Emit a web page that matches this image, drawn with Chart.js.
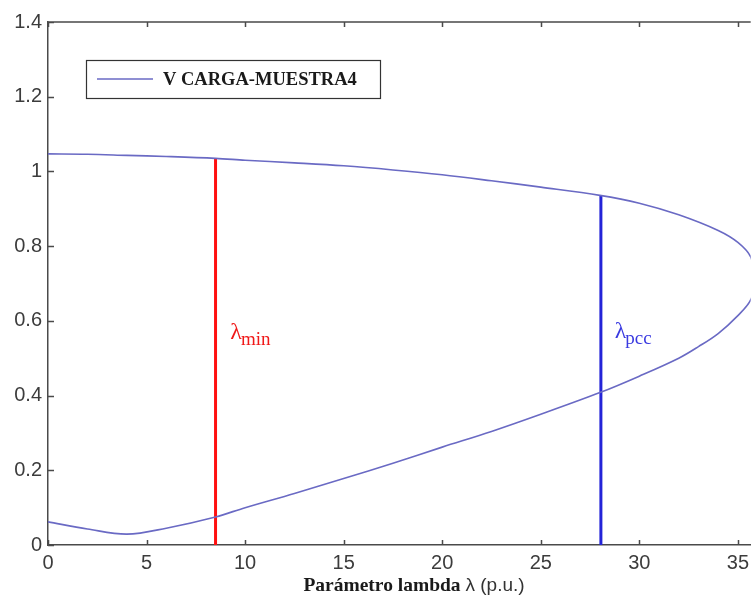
<!DOCTYPE html>
<html>
<head>
<meta charset="utf-8">
<script src="https://cdn.jsdelivr.net/npm/chart.js@4.4.1/dist/chart.umd.min.js"></script>
<style>
  html, body { margin: 0; padding: 0; background: #fff; }
  #wrap { width: 755px; height: 595px; }
</style>
</head>
<body>
<div id="wrap"><canvas id="pvCanvas" width="755" height="595"></canvas></div>
<script>
// nose curve V vs lambda, traced from upper branch round the nose and back on the lower one
var lambdaUpper = [0, 2, 4, 6, 8.5, 10, 12.5, 15, 17.5, 20, 22.5, 25, 28, 30, 32, 34, 35, 35.65, 35.85];
var voltUpper   = [1.047, 1.046, 1.043, 1.040, 1.035, 1.030, 1.023, 1.015, 1.004, 0.991, 0.975, 0.958, 0.936, 0.915, 0.884, 0.842, 0.810, 0.771, 0.71];
var lambdaLower = [35.65, 35, 34, 33, 32, 30, 28, 25, 22.5, 20, 17.5, 15, 12.5, 10, 8.5, 6, 4, 2, 0];
var voltLower   = [0.656, 0.614, 0.566, 0.531, 0.500, 0.452, 0.408, 0.350, 0.304, 0.262, 0.219, 0.178, 0.138, 0.100, 0.075, 0.045, 0.029, 0.043, 0.062];

var lambdaMin = 8.5, vMinTop = 1.035;
var lambdaPcc = 28.05, vPccTop = 0.935;

var xTicks = [0, 5, 10, 15, 20, 25, 30, 35];
var yTicks = [0, 0.2, 0.4, 0.6, 0.8, 1, 1.2, 1.4];

var curve = [];
for (var i = 0; i < lambdaUpper.length; i++) curve.push({x: lambdaUpper[i], y: voltUpper[i]});
for (var j = 0; j < lambdaLower.length; j++) curve.push({x: lambdaLower[j], y: voltLower[j]});

var curveColor = '#6a6ac4';

// inward ticks and the top frame line, matlab style
var frameTicks = {
  id: 'frameTicks',
  afterDraw: function(chart) {
    var c = chart.ctx, a = chart.chartArea, xs = chart.scales.x, ys = chart.scales.y;
    c.save();
    c.strokeStyle = '#4a4a4a';
    c.lineWidth = 1.5;
    c.beginPath();
    c.moveTo(a.left, a.top); c.lineTo(a.right, a.top);
    xTicks.forEach(function(v) {
      var px = Math.round(xs.getPixelForValue(v)) + 0.5;
      c.moveTo(px, a.bottom); c.lineTo(px, a.bottom - 5);
      c.moveTo(px, a.top); c.lineTo(px, a.top + 5);
    });
    yTicks.forEach(function(v) {
      var py = Math.round(ys.getPixelForValue(v)) + 0.5;
      c.moveTo(a.left, py); c.lineTo(a.left + 6, py);
    });
    c.stroke();
    c.restore();
  }
};

// lambda labels next to the vertical lines
var lambdaLabels = {
  id: 'lambdaLabels',
  afterDatasetsDraw: function(chart) {
    var c = chart.ctx, xs = chart.scales.x, ys = chart.scales.y;
    function put(xv, yv, sub, color) {
      var px = xs.getPixelForValue(xv), py = ys.getPixelForValue(yv);
      c.fillStyle = color;
      c.textBaseline = 'alphabetic';
      c.textAlign = 'left';
      c.font = '24px "Liberation Serif", serif';
      c.fillText('λ', px, py);
      var w = c.measureText('λ').width;
      c.font = '19px "Liberation Serif", serif';
      c.fillText(sub, px + w - 1, py + 6);
    }
    c.save();
    put(9.25, 0.552, 'min', '#f01818');
    put(28.75, 0.555, 'pcc', '#3a3ae0');
    c.restore();
  }
};

// boxed legend inside the axes
var boxLegend = {
  id: 'boxLegend',
  afterDraw: function(chart) {
    var c = chart.ctx, a = chart.chartArea, ds = chart.data.datasets[0];
    var x0 = a.left + 38, y0 = a.top + 38, w = 294, h = 38;
    c.save();
    c.fillStyle = '#fff';
    c.fillRect(x0, y0, w, h);
    c.strokeStyle = '#333';
    c.lineWidth = 1.2;
    c.strokeRect(x0 + 0.5, y0 + 0.5, w, h);
    c.strokeStyle = ds.borderColor;
    c.lineWidth = 1.5;
    c.beginPath();
    c.moveTo(x0 + 11, y0 + h / 2); c.lineTo(x0 + 67, y0 + h / 2);
    c.stroke();
    c.fillStyle = '#1a1a1a';
    c.font = 'bold 18.5px "Liberation Serif", serif';
    c.textBaseline = 'middle';
    c.fillText(ds.label, x0 + 77, y0 + h / 2 + 1);
    c.restore();
  }
};

// x axis title, bold serif words then sans symbol part
var xTitle = {
  id: 'xTitle',
  afterDraw: function(chart) {
    var c = chart.ctx;
    var part1 = 'Parámetro lambda ', part2 = 'λ (p.u.)';
    var f1 = 'bold 19.5px "Liberation Serif", serif', f2 = '19px "Liberation Sans", sans-serif';
    c.save();
    c.textBaseline = 'alphabetic';
    c.font = f1;
    var w1 = c.measureText(part1).width;
    c.font = f2;
    var w2 = c.measureText(part2).width;
    var x = 414 - (w1 + w2) / 2;
    c.font = f1;
    c.fillStyle = '#1a1a1a';
    c.fillText(part1, x, 591);
    c.font = f2;
    c.fillStyle = '#333';
    c.fillText(part2, x + w1, 591);
    c.restore();
  }
};

var chart = new Chart(document.getElementById('pvCanvas'), {
  type: 'scatter',
  data: {
    datasets: [{
      label: 'V CARGA-MUESTRA4',
      data: curve,
      showLine: true,
      borderColor: curveColor,
      borderWidth: 1.6,
      pointRadius: 0,
      tension: 0.35
    }, {
      label: 'lambda min',
      data: [{x: lambdaMin, y: 0}, {x: lambdaMin, y: vMinTop}],
      showLine: true,
      borderColor: '#ff1010',
      borderWidth: 3,
      pointRadius: 0
    }, {
      label: 'lambda pcc',
      data: [{x: lambdaPcc, y: 0}, {x: lambdaPcc, y: vPccTop}],
      showLine: true,
      borderColor: '#2424d8',
      borderWidth: 3,
      pointRadius: 0
    }]
  },
  options: {
    responsive: false,
    animation: false,
    layout: { padding: { top: 22, right: 0, left: 0, bottom: 0 } },
    plugins: {
      legend: { display: false },
      tooltip: { enabled: false }
    },
    scales: {
      x: {
        type: 'linear',
        min: 0,
        max: 35.65,
        afterBuildTicks: function(axis) {
          axis.ticks = xTicks.map(function(v) { return {value: v}; });
        },
        afterFit: function(axis) { axis.height = 50; },
        grid: { display: false, drawTicks: false },
        border: { display: true, color: '#4a4a4a', width: 1.5 },
        ticks: {
          padding: 6,
          color: '#3c3c3c',
          font: { family: '"Liberation Sans", Arial, sans-serif', size: 20 }
        }
      },
      y: {
        type: 'linear',
        min: 0,
        max: 1.4,
        afterBuildTicks: function(axis) {
          axis.ticks = yTicks.map(function(v) { return {value: v}; });
        },
        afterFit: function(axis) { axis.width = 48; },
        grid: { display: false, drawTicks: false },
        border: { display: true, color: '#4a4a4a', width: 1.5 },
        ticks: {
          padding: 6,
          color: '#3c3c3c',
          font: { family: '"Liberation Sans", Arial, sans-serif', size: 20 },
          callback: function(v) { return String(Math.round(v * 10) / 10); }
        }
      }
    }
  },
  plugins: [frameTicks, lambdaLabels, boxLegend, xTitle]
});
</script>
</body>
</html>
